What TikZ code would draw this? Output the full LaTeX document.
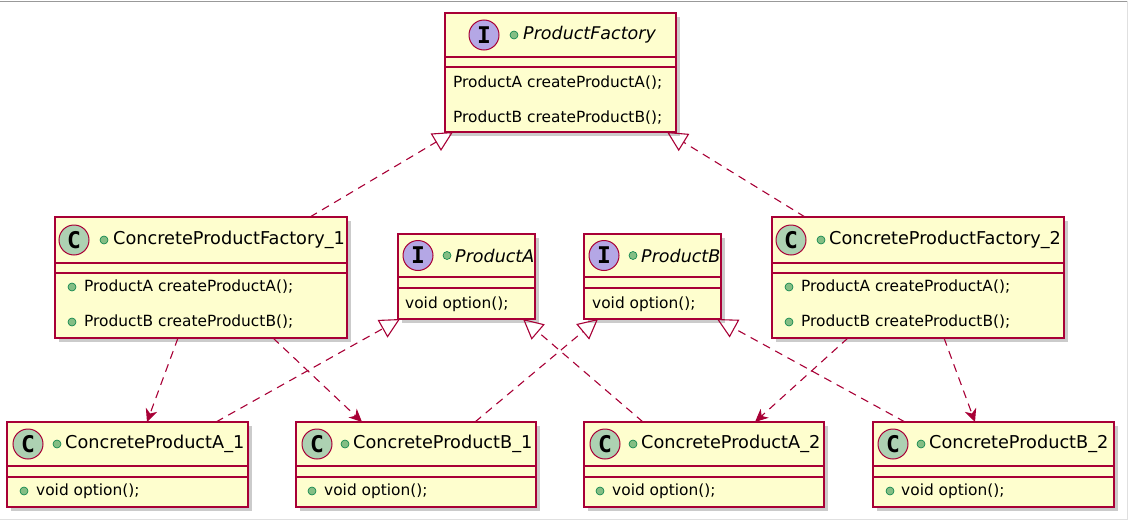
\documentclass[tikz,border=0pt]{standalone}
\usepackage{fontspec}
\setmainfont{DejaVu Sans}
\newfontfamily\iconfont{DejaVu Sans Mono}
\usetikzlibrary{arrows.meta,shadows,calc}
\definecolor{umlfill}{HTML}{FEFECE}
\definecolor{umlline}{HTML}{A80036}
\definecolor{ifill}{HTML}{B4A7E5}
\definecolor{cfill}{HTML}{ADD1B2}
\definecolor{visfill}{HTML}{84BE84}
\definecolor{visline}{HTML}{038048}
\tikzset{
  clsbox/.style={draw=umlline, fill=umlfill, line width=1.6pt, anchor=north west, inner sep=0pt, outer sep=0pt,
    drop shadow={shadow xshift=4pt, shadow yshift=-4pt, fill=black!45, opacity=0.45}},
  sepline/.style={draw=umlline, line width=1.6pt},
  iconI/.style={circle, draw=umlline, fill=ifill, line width=1pt, minimum size=30pt, inner sep=0pt,
    font=\iconfont\bfseries\fontsize{23}{23}\selectfont},
  iconC/.style={iconI, fill=cfill},
  visdot/.style={circle, draw=visline, fill=visfill, line width=0.6pt, minimum size=8pt, inner sep=0pt},
  clsname/.style={anchor=west, inner sep=0pt, font=\fontsize{17.7}{20}\selectfont},
  iname/.style={anchor=west, inner sep=0pt, font=\itshape\fontsize{17.5}{20}\selectfont},
  membertext/.style={anchor=west, inner sep=0pt, font=\fontsize{15.4}{18}\selectfont},
  realize/.style={umlline, line width=1.1pt, dash pattern=on 8pt off 6pt,
    -{Triangle[open, length=20pt, width=20pt, line width=1.1pt]}},
  depend/.style={umlline, line width=1.1pt, dash pattern=on 8pt off 6pt,
    -{Stealth[length=13pt, width=12pt, inset=4pt, line width=1pt]}},
  frameline/.style={draw=black!25, line width=1pt},
}
\begin{document}
\begin{tikzpicture}[x=1pt, y=-1pt]
\useasboundingbox (0,0) rectangle (1132,522);
\draw[frameline, draw=black!40] (0,1) -- (1127,1);
\draw[frameline, draw=black!12] (1127,1) -- (1127,519) -- (0,519);

% ---- ProductFactory
\node[clsbox, minimum width=231pt, minimum height=119pt] (pf) at (445,13) {};
\draw[sepline] ([yshift=-44pt]pf.north west) -- ([yshift=-44pt]pf.north east);
\draw[sepline] ([yshift=-54pt]pf.north west) -- ([yshift=-54pt]pf.north east);
\node[iconI] (pfi) at (484,35) {I};
\node[visdot] (pfv) at (514,35) {};
\node[iname] (pfn) at (523,35) {ProductFactory};
\node[membertext] (pfm1) at (453,83) {ProductA createProductA();};
\node[membertext] (pfm2) at (453,118) {ProductB createProductB();};

% ---- ConcreteProductFactory_1
\node[clsbox, minimum width=292pt, minimum height=121pt] (cpf1) at (55,217) {};
\draw[sepline] ([yshift=-46pt]cpf1.north west) -- ([yshift=-46pt]cpf1.north east);
\draw[sepline] ([yshift=-56pt]cpf1.north west) -- ([yshift=-56pt]cpf1.north east);
\node[iconC] (cpf1i) at (74,240) {C};
\node[visdot] (cpf1v) at (104,240) {};
\node[clsname] (cpf1n) at (113,240) {ConcreteProductFactory\_1};
\node[visdot] (cpf1d1) at (72,287) {};
\node[membertext] (cpf1m1) at (84,287) {ProductA createProductA();};
\node[visdot] (cpf1d2) at (72,322) {};
\node[membertext] (cpf1m2) at (84,322) {ProductB createProductB();};

% ---- ProductA
\node[clsbox, minimum width=137pt, minimum height=85pt] (pa) at (398,234) {};
\draw[sepline] ([yshift=-43pt]pa.north west) -- ([yshift=-43pt]pa.north east);
\draw[sepline] ([yshift=-54pt]pa.north west) -- ([yshift=-54pt]pa.north east);
\node[iconI] (pai) at (418,255.5) {I};
\node[visdot] (pav) at (447,255.5) {};
\node[iname] (pan) at (455,255.5) {ProductA};
\node[membertext] (pam) at (405,304) {void option();};

% ---- ProductB
\node[clsbox, minimum width=137pt, minimum height=85pt] (pb) at (584,234) {};
\draw[sepline] ([yshift=-43pt]pb.north west) -- ([yshift=-43pt]pb.north east);
\draw[sepline] ([yshift=-54pt]pb.north west) -- ([yshift=-54pt]pb.north east);
\node[iconI] (pbi) at (604,255.5) {I};
\node[visdot] (pbv) at (633,255.5) {};
\node[iname] (pbn) at (641,255.5) {ProductB};
\node[membertext] (pbm) at (592,304) {void option();};

% ---- ConcreteProductFactory_2
\node[clsbox, minimum width=292pt, minimum height=121pt] (cpf2) at (772,217) {};
\draw[sepline] ([yshift=-46pt]cpf2.north west) -- ([yshift=-46pt]cpf2.north east);
\draw[sepline] ([yshift=-56pt]cpf2.north west) -- ([yshift=-56pt]cpf2.north east);
\node[iconC] (cpf2i) at (791,240) {C};
\node[visdot] (cpf2v) at (821,240) {};
\node[clsname] (cpf2n) at (829,240) {ConcreteProductFactory\_2};
\node[visdot] (cpf2d1) at (789,287) {};
\node[membertext] (cpf2m1) at (801,287) {ProductA createProductA();};
\node[visdot] (cpf2d2) at (789,322) {};
\node[membertext] (cpf2m2) at (801,322) {ProductB createProductB();};

% ---- bottom row
\node[clsbox, minimum width=241pt, minimum height=85pt] (ca1) at (7,422) {};
\node[clsbox, minimum width=240pt, minimum height=85pt] (cb1) at (296,422) {};
\node[clsbox, minimum width=240pt, minimum height=85pt] (ca2) at (584,422) {};
\node[clsbox, minimum width=241pt, minimum height=85pt] (cb2) at (873,422) {};
\foreach \b in {ca1,cb1,ca2,cb2}{
  \draw[sepline] ([yshift=-44pt]\b.north west) -- ([yshift=-44pt]\b.north east);
  \draw[sepline] ([yshift=-55pt]\b.north west) -- ([yshift=-55pt]\b.north east);
}
\node[iconC] (ca1i) at (28,444) {C};
\node[visdot] (ca1v) at (57,444) {};
\node[clsname] (ca1n) at (65,444) {ConcreteProductA\_1};
\node[visdot] (ca1d) at (24,491) {};
\node[membertext] (ca1m) at (36,491) {void option();};

\node[iconC] (cb1i) at (317,444) {C};
\node[visdot] (cb1v) at (345,444) {};
\node[clsname] (cb1n) at (353,444) {ConcreteProductB\_1};
\node[visdot] (cb1d) at (312,491) {};
\node[membertext] (cb1m) at (324,491) {void option();};

\node[iconC] (ca2i) at (605,444) {C};
\node[visdot] (ca2v) at (633,444) {};
\node[clsname] (ca2n) at (641,444) {ConcreteProductA\_2};
\node[visdot] (ca2d) at (600,491) {};
\node[membertext] (ca2m) at (612,491) {void option();};

\node[iconC] (cb2i) at (893,444) {C};
\node[visdot] (cb2v) at (921,444) {};
\node[clsname] (cb2n) at (929,444) {ConcreteProductB\_2};
\node[visdot] (cb2d) at (890,491) {};
\node[membertext] (cb2m) at (901,491) {void option();};

% ---- realizations
\draw[realize] ([xshift=255pt]cpf1.north west) -- ([xshift=8pt]pf.south west);
\draw[realize] ([xshift=33pt]cpf2.north west) -- ([xshift=-9pt]pf.south east);
\draw[realize] ([xshift=209pt]ca1.north west) -- ([xshift=2pt]pa.south west);
\draw[realize] ([xshift=179pt]cb1.north west) -- ([xshift=14pt]pb.south west);
\draw[realize] ([xshift=59pt]ca2.north west) -- ([xshift=125pt]pa.south west);
\draw[realize] ([xshift=32pt]cb2.north west) -- ([xshift=133pt]pb.south west);

% ---- dependencies
\draw[depend] ([xshift=123pt]cpf1.south west) -- ([xshift=140pt]ca1.north west);
\draw[depend] ([xshift=218pt]cpf1.south west) -- ([xshift=66pt]cb1.north west);
\draw[depend] ([xshift=76pt]cpf2.south west) -- ([xshift=171pt]ca2.north west);
\draw[depend] ([xshift=172pt]cpf2.south west) -- ([xshift=102pt]cb2.north west);
\end{tikzpicture}
\end{document}
